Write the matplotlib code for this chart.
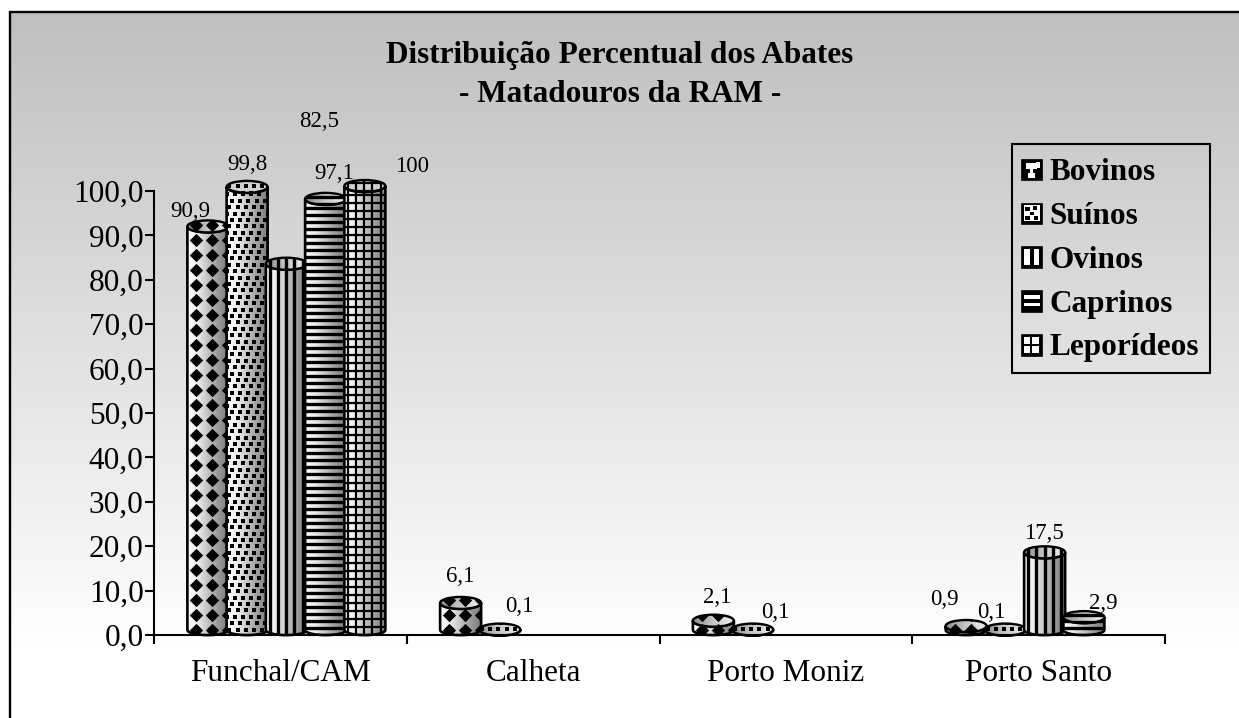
import numpy as np
import matplotlib
matplotlib.use("Agg")
import matplotlib.pyplot as plt
from matplotlib.patches import PathPatch, Rectangle, Ellipse
from matplotlib.path import Path
from matplotlib.collections import LineCollection
from matplotlib.legend_handler import HandlerBase
from matplotlib.colors import LinearSegmentedColormap

plt.rcParams['font.family'] = ['Liberation Serif', 'DejaVu Serif']

categories = ['Funchal/CAM', 'Calheta', 'Porto Moniz', 'Porto Santo']
series_names = ['Bovinos', 'Suínos', 'Ovinos', 'Caprinos', 'Leporídeos']
bovinos = [90.9, 6.1, 2.1, 0.9]
suinos = [99.8, 0.1, 0.1, 0.1]
ovinos = [82.5, None, None, 17.5]
caprinos = [97.1, None, None, 2.9]
leporideos = [100, None, None, None]
series_values = [bovinos, suinos, ovinos, caprinos, leporideos]
value_labels = [['90,9', '6,1', '2,1', '0,9'], ['99,8', '0,1', '0,1', '0,1'],
                ['82,5', None, None, '17,5'], ['97,1', None, None, '2,9'],
                ['100', None, None, None]]
# label offset from the bar top, in pixels
label_offsets = [[(-18, 20), (0, 31), (4, 28), (-22, 32)],
                 [(0, 27), (19, 28), (23, 22), (-14, 22)],
                 [(33, 147), None, None, (-1, 24)],
                 [(9, 30), None, None, (19, 19)],
                 [(47, 24), None, None, None]]
yticks = np.arange(0, 101, 10)
yticklabels = [('%.1f' % v).replace('.', ',') for v in yticks]

W, H = 1239, 718
L, R, T, B = 154, 1165, 191, 635
PX = (R - L) / 4.0         # pixels per category
PY = (B - T) / 100.0       # pixels per percent

fig = plt.figure(figsize=(W / 100, H / 100), dpi=100, facecolor='white')

# panel background: open at right and bottom, as in the reference
bg = fig.add_axes([0, 0, 1, 1], zorder=0)
bg.axis('off')
grad = LinearSegmentedColormap.from_list('g', ['#bfbfbf', '#ffffff'])
bx0, by0 = 10, 12
bg.imshow(np.linspace(0, 1, 256)[:, None], cmap=grad, aspect='auto',
          extent=[bx0, W, 650, by0], vmin=0, vmax=1)
bg.plot([bx0, bx0, W], [H, by0, by0], color='black', lw=1.7, solid_joinstyle='miter')
bg.add_patch(Rectangle((1012, 144), 198, 229, fill=False, ec='black', lw=1.5))
bg.set_xlim(0, W); bg.set_ylim(H, 0)

ax = fig.add_axes([L / W, 1 - B / H, (R - L) / W, (B - T) / H], zorder=1)
ax.patch.set_alpha(0)

bar_cmap = LinearSegmentedColormap.from_list('b', ['#ffffff', '#eeeeee', '#c4c4c4', '#9c9c9c', '#7c7c7c'])
top_cmap = LinearSegmentedColormap.from_list('t', ['#8c8c8c', '#c8c8c8', '#f0f0f0'])

STEP = 39.25 / PX
HALF = 20.5 / PX
RY = 6.0 / PY
BASE = 5.0 / PY


def lines(segs, lw):
    return LineCollection(segs, colors='black', linewidths=lw)


def add_pattern(kind, x0, x1, y0, y1, clip, z):
    """Paint the series' fill pattern, clipped to the given patch."""
    arts = []
    if kind == 0:   # diamonds on a square grid
        xs, ys = [], []
        for k in range(0, 40):
            yy = BASE + k * 15.0 / PY
            if y0 - 2 <= yy <= y1 + 2:
                for xx in np.arange(x0 + 9.0 / PX, x1 + 0.02, 16.0 / PX):
                    xs.append(xx); ys.append(yy)
        arts.append(ax.scatter(xs, ys, marker='D', s=46, c='black', linewidths=0, zorder=z))
    elif kind == 1:  # small staggered squares
        rows = np.arange(y0, y1 + 1, 6.4 / PY)
        xs, ys = [], []
        for j, yy in enumerate(rows):
            off = (j % 3) * 2.7 / PX
            for xx in np.arange(x0 + off, x1 + 0.1, 8.2 / PX):
                xs.append(xx); ys.append(yy)
        arts.append(ax.scatter(xs, ys, marker='s', s=8, c='black', linewidths=0, zorder=z))
    elif kind == 2:  # vertical stripes
        segs = [[(xx, y0), (xx, y1)] for xx in np.arange(x0 + 4.0 / PX, x1, 8.2 / PX)]
        arts.append(ax.add_collection(lines(segs, 2.4)))
    elif kind == 3:  # horizontal stripes
        segs = [[(x0, yy), (x1, yy)] for yy in np.arange(y0 + 1.0 / PY, y1, 7.0 / PY)]
        arts.append(ax.add_collection(lines(segs, 2.4)))
    else:            # grid
        segs = [[(xx, y0), (xx, y1)] for xx in np.arange(x0 + 3.5 / PX, x1, 8.2 / PX)]
        segs += [[(x0, yy), (x1, yy)] for yy in np.arange(y0 + 1.0 / PY, y1, 8.0 / PY)]
        arts.append(ax.add_collection(lines(segs, 1.6)))
    for a in arts:
        a.set_zorder(z)
        a.set_clip_box(None)
        a.set_clip_path(clip)


def cylinder(xc, v, kind, z):
    x0, x1 = xc - HALF, xc + HALF
    yb, yt = BASE, BASE + v
    t = np.linspace(np.pi, 2 * np.pi, 40)
    front = [(xc + HALF * np.cos(a), yb + RY * np.sin(a) * 0.85) for a in t]
    back = [(xc + HALF * np.cos(a), yt + RY * np.sin(a)) for a in t[::-1]]
    verts = front + back + [front[0]]
    body = PathPatch(Path(verts), fc='none', ec='none', clip_on=False, zorder=z)
    ax.add_patch(body)
    im = ax.imshow(np.linspace(0, 1, 128)[None, :], cmap=bar_cmap, aspect='auto',
                   extent=[x0, x1, yb - RY, yt + RY], zorder=z)
    im.set_clip_box(None)
    im.set_clip_path(body)
    add_pattern(kind, x0, x1, yb - RY, yt + RY, body, z + 0.1)
    ax.add_patch(PathPatch(Path(verts), fc='none', ec='black', lw=1.9, clip_on=False, zorder=z + 0.2))
    top = Ellipse((xc, yt), 2 * HALF, 2 * RY, fc='none', ec='none', clip_on=False, zorder=z + 0.3)
    ax.add_patch(top)
    im2 = ax.imshow(np.linspace(0, 1, 128)[None, :], cmap=top_cmap, aspect='auto',
                    extent=[x0, x1, yt - RY, yt + RY], zorder=z + 0.3)
    im2.set_clip_box(None)
    im2.set_clip_path(top)
    add_pattern(kind, x0, x1, yt - RY, yt + RY, top, z + 0.35)
    ax.add_patch(Ellipse((xc, yt), 2 * HALF, 2 * RY, fc='none', ec='black', lw=1.7,
                         clip_on=False, zorder=z + 0.4))


z = 3
for s, vals in enumerate(series_values):
    for c, v in enumerate(vals):
        if v is None:
            continue
        xc = c + 0.5 + 6.0 / PX + (s - 2) * STEP
        cylinder(xc, v, s, z)
        z += 1
        dx, dy = label_offsets[s][c]
        ax.annotate(value_labels[s][c], xy=(xc, v), xytext=(dx, dy), textcoords='offset pixels',
                    ha='center', va='center', fontsize=16.5, color='black', zorder=100,
                    annotation_clip=False)
ax.set_xlim(0, 4)
ax.set_ylim(0, 100)

# axes
for sp in ('top', 'right'):
    ax.spines[sp].set_visible(False)
for sp in ('left', 'bottom'):
    ax.spines[sp].set_linewidth(1.5)
    ax.spines[sp].set_zorder(200)
ax.set_yticks(yticks)
ax.set_yticklabels(yticklabels, fontsize=22.5)
ax.set_xticks(np.arange(0, 5))
ax.set_xticklabels([])
ax.set_xticks(np.arange(0.5, 4), labels=categories, minor=True, fontsize=22.5)
ax.tick_params(axis='y', length=6.5, width=1.5, pad=1)
ax.tick_params(axis='x', which='major', length=6.5, width=1.5)
ax.tick_params(axis='x', which='minor', length=0, pad=17)

# titles
fig.text(620 / W, 1 - 55 / H, 'Distribuição Percentual dos Abates', ha='center', va='center',
         fontsize=22.5, fontweight='bold', zorder=10)
fig.text(620 / W, 1 - 95 / H, '- Matadouros da RAM -', ha='center', va='center',
         fontsize=22.5, fontweight='bold', zorder=10)


class SwatchHandler(HandlerBase):
    def create_artists(self, legend, orig, xd, yd, w, h, fs, trans):
        k = orig.kind
        arts = [Rectangle((xd, yd), w, h, fc='black', ec='black', lw=0.5, transform=trans)]

        def r(a, b, c, d, col='white'):
            arts.append(Rectangle((xd + a * w, yd + b * h), c * w, d * h, fc=col, ec='none', transform=trans))
        if k == 0:
            r(.32, .12, .36, .22); r(.42, .3, .16, .25); r(.25, .5, .5, .3)
            r(.72, .55, .16, .3)
        elif k == 1:
            r(.12, .12, .76, .76)
            for a, b in [(.2, .6), (.55, .65), (.4, .4), (.2, .2), (.6, .2)]:
                r(a, b, .2, .18, 'black')
        elif k == 2:
            r(.14, .12, .26, .76); r(.6, .12, .26, .76)
        elif k == 3:
            r(.12, .58, .76, .18); r(.12, .27, .76, .16)
        else:
            r(.14, .12, .72, .76)
            r(.42, .12, .1, .76, 'black'); r(.14, .45, .72, .1, 'black')
        return arts


class Key(Rectangle):
    def __init__(self, kind):
        super().__init__((0, 0), 1, 1)
        self.kind = kind


keys = [Key(i) for i in range(5)]
leg = ax.legend(keys, series_names, handler_map={Key: SwatchHandler()},
                loc='upper left', bbox_to_anchor=((1021 - L) / (R - L), (B - 158) / (B - T)),
                prop={'family': 'Liberation Serif', 'weight': 'bold', 'size': 22.5},
                frameon=False, borderaxespad=0, handlelength=0.68, handleheight=0.68,
                handletextpad=0.22, labelspacing=0.475, borderpad=0)
leg.set_zorder(300)

fig.savefig('out.png', dpi=100)
